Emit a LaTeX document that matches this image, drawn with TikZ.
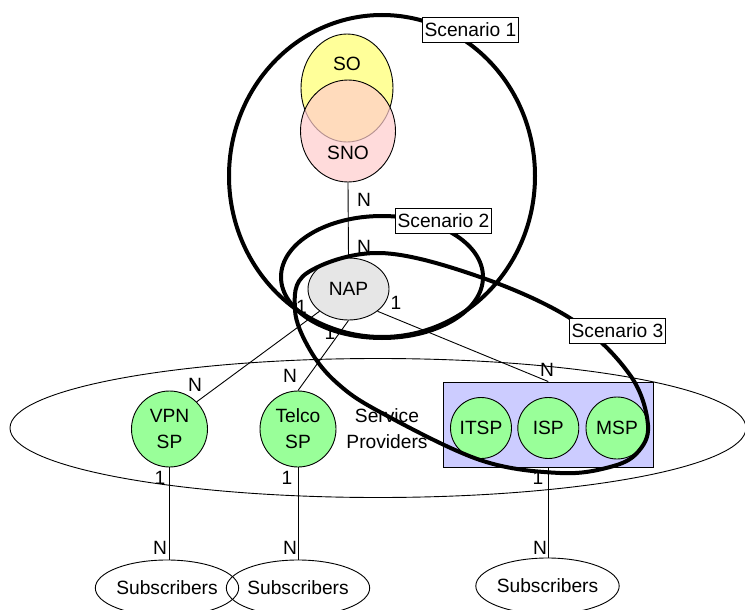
\documentclass[tikz,border=0pt]{standalone}
\usepackage{fontspec}
\setmainfont{Liberation Sans}
\usetikzlibrary{shapes.geometric}

\definecolor{soyellow}{RGB}{255,255,153}
\definecolor{snopink}{RGB}{255,204,204}
\definecolor{napgray}{RGB}{230,230,230}
\definecolor{spgreen}{RGB}{153,255,153}
\definecolor{boxblue}{RGB}{204,204,255}

\begin{document}
\begin{tikzpicture}[x=1pt,y=-1pt,
  every node/.style={font=\fontsize{19.2}{26}\selectfont},
  link/.style={line width=0.9pt},
  scen/.style={line width=4pt},
  outline/.style={draw, line width=0.9pt, inner sep=0pt},
  tag/.style={draw, fill=white, line width=0.9pt, inner xsep=2pt, inner ysep=0pt, minimum height=25pt},
  lbl/.style={inner sep=0pt},
  blob/.style={outline, ellipse},
  spnode/.style={outline, circle, fill=spgreen, align=center},
  subs/.style={outline, ellipse, minimum width=130pt, minimum height=56pt},
]
\fill[white] (0,0) rectangle (745,610);
\useasboundingbox (0,0) rectangle (745,610);

% service owner and service network operator
\node[blob, fill=soyellow, minimum width=92pt, minimum height=108pt] (so) at (347,88) {};
\node[lbl] (sotxt) at (347,64) {SO};
\node[blob, fill=snopink, fill opacity=0.7, minimum width=95pt, minimum height=102pt] (sno) at (348,131) {};
\node[lbl] (snotxt) at (348,153) {SNO};

% network access provider
\node[blob, fill=napgray, minimum width=81pt, minimum height=62pt] (nap) at (348.5,289) {NAP};

% service providers
\node[blob, minimum width=736pt, minimum height=139pt] (spring) at (378,428) {};
\node[lbl, align=center] (sptxt) at (387,429) {Service\\Providers};
\node[outline, fill=boxblue, minimum width=210pt, minimum height=85pt] (grp) at (548,424.5) {};
\node[spnode, minimum size=76pt] (vpn) at (169.5,429) {VPN\\SP};
\node[spnode, minimum size=76pt] (telco) at (298,429) {Telco\\SP};
\node[spnode, minimum size=61pt] (itsp) at (481,428) {ITSP};
\node[spnode, minimum size=61pt] (isp) at (548.3,428) {ISP};
\node[spnode, minimum size=62pt] (msp) at (617,428) {MSP};

% subscribers
\node[subs] (sub1) at (167,588) {Subscribers};
\node[subs] (sub2) at (298,588) {Subscribers};
\node[subs] (sub3) at (547.5,586) {Subscribers};

% relations
\draw[link] (sno.south) -- (nap.north);
\draw[link] (nap.south west) -- (vpn.north east);
\draw[link] (nap.south) -- (telco.north);
\draw[link] (nap.south east) -- (grp.north -| isp);
\draw[link] (vpn.south) -- (vpn.south |- sub1.north);
\draw[link] (telco.south) -- (sub2.north);
\draw[link] (grp.south -| isp) -- (isp |- sub3.north);

% cardinalities
\node[lbl] (c1) at (364,200) {N};
\node[lbl] (c2) at (364,247) {N};
\node[lbl] (c3) at (301.5,306.5) {1};
\node[lbl] (c4) at (330,333) {1};
\node[lbl] (c5) at (396,303) {1};
\node[lbl] (c6) at (195,385) {N};
\node[lbl] (c7) at (290,376) {N};
\node[lbl] (c8) at (547,370) {N};
\node[lbl] (c9) at (160,478) {1};
\node[lbl] (c10) at (287,478) {1};
\node[lbl] (c11) at (538,478) {1};
\node[lbl] (c12) at (160,548) {N};
\node[lbl] (c13) at (290,548) {N};
\node[lbl] (c14) at (540,548) {N};

% scenario outlines
\draw[scen] (382,176) ellipse [x radius=153, y radius=161];
\draw[scen] (382,277) ellipse [x radius=101, y radius=61];
\draw[scen] plot[smooth cycle, tension=0.6] coordinates {
  (307,273) (380,253) (480,277) (573,320) (630,375) (648,425)
  (637,453) (610,467) (560,473) (480,460) (380,412) (337,383)
  (310,350) (295,310)};

\node[tag] (s1) at (470.5,29.5) {Scenario 1};
\node[tag] (s2) at (443.5,220.5) {Scenario 2};
\node[tag] (s3) at (617.5,331) {Scenario 3};
\end{tikzpicture}
\end{document}
